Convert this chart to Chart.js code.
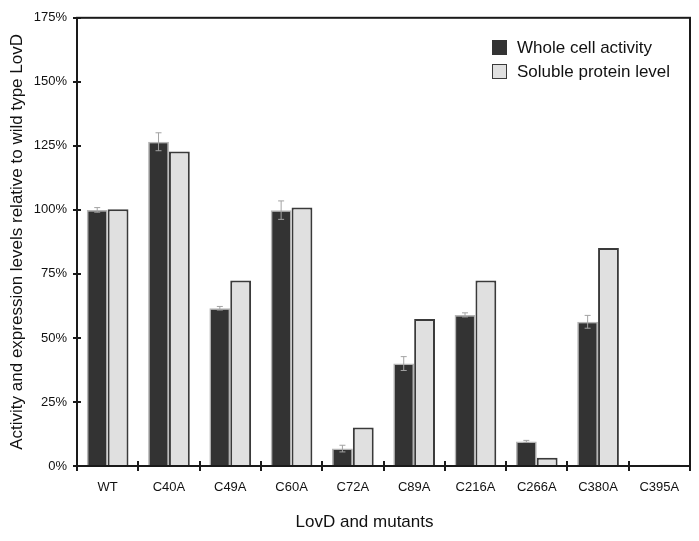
<!DOCTYPE html>
<html>
<head>
<meta charset="utf-8">
<script src="https://cdn.jsdelivr.net/npm/chart.js@4.4.1/dist/chart.umd.min.js"></script>
<style>
	body { margin: 0; background: #fff; }
	#chart { display: block; }
</style>
</head>
<body>
<canvas id="chart" width="699" height="541"></canvas>
<script>
const CHART = document.getElementById("chart");
const FONT = "'Liberation Sans', Arial, sans-serif";

const labels = ["WT", "C40A", "C49A", "C60A", "C72A", "C89A", "C216A", "C266A", "C380A", "C395A"];
const activity = [100, 126.6, 61.6, 99.9, 6.8, 40, 59, 9.6, 56.3, 0.2];
const activityErr = [0.9, 3.5, 0.7, 3.6, 1.3, 2.7, 0.8, 0.4, 2.5, 0];
const soluble = [100.2, 122.8, 72.4, 100.9, 15, 57.4, 72.4, 3.2, 85.1, 0.5];
const yTicks = [0, 25, 50, 75, 100, 125, 150, 175];

const seriesNames = ["Whole cell activity", "Soluble protein level"];
const xTitle = "LovD and mutants";
const yTitle = "Activity and expression levels relative to wild type LovD";

// error bars, frame, crossing tick marks, legend and x title
const extras = {
	id: "extras",
	afterDatasetsDraw(chart) {
		const ctx = chart.ctx;
		const y = chart.scales.y;
		const meta = chart.getDatasetMeta(0);
		ctx.save();
		ctx.strokeStyle = "#a3a3a3";
		ctx.lineWidth = 1;
		meta.data.forEach((bar, i) => {
			const err = activityErr[i];
			if (!err) return;
			const top = y.getPixelForValue(activity[i] + err);
			const bot = y.getPixelForValue(activity[i] - err);
			ctx.beginPath();
			ctx.moveTo(bar.x, top);
			ctx.lineTo(bar.x, bot);
			ctx.moveTo(bar.x - 3, top);
			ctx.lineTo(bar.x + 3, top);
			ctx.moveTo(bar.x - 3, bot);
			ctx.lineTo(bar.x + 3, bot);
			ctx.stroke();
		});
		ctx.restore();
	},
	afterDraw(chart) {
		const ctx = chart.ctx;
		const a = chart.chartArea;
		const x = chart.scales.x;
		const y = chart.scales.y;
		ctx.save();
		ctx.strokeStyle = "#1a1a1a";
		ctx.lineWidth = 2;
		ctx.strokeRect(a.left, a.top, a.right - a.left, a.bottom - a.top);

		ctx.beginPath();
		yTicks.forEach((v) => {
			const py = Math.round(y.getPixelForValue(v));
			ctx.moveTo(a.left - 4, py);
			ctx.lineTo(a.left + 4, py);
		});
		const step = (x.right - x.left) / labels.length;
		for (let i = 0; i <= labels.length; i++) {
			const px = Math.round(x.left + i * step);
			ctx.moveTo(px, a.bottom - 5);
			ctx.lineTo(px, a.bottom + 5);
		}
		ctx.stroke();

		// legend
		const ds = chart.data.datasets;
		ctx.font = "17px " + FONT;
		ctx.textBaseline = "middle";
		ctx.textAlign = "left";
		ds.forEach((d, i) => {
			const bx = 492;
			const by = 40 + i * 24;
			ctx.fillStyle = d.backgroundColor;
			ctx.fillRect(bx, by, 15, 15);
			ctx.lineWidth = 1;
			ctx.strokeStyle = i === 0 ? "#333333" : "#3a3a3a";
			ctx.strokeRect(bx + 0.5, by + 0.5, 14, 14);
			ctx.fillStyle = "#111";
			ctx.fillText(d.label, 517, by + 8);
		});

		ctx.textAlign = "center";
		ctx.fillText(xTitle, 364.5, 522);
		ctx.restore();
	},
};

new Chart(CHART.getContext("2d"), {
	type: "bar",
	data: {
		labels: labels,
		datasets: [
			{
				label: seriesNames[0],
				data: activity,
				backgroundColor: "#333333",
				borderColor: "#b5b5b5",
				borderWidth: 1.5,
			},
			{
				label: seriesNames[1],
				data: soluble,
				backgroundColor: "#e0e0e0",
				borderColor: "#3a3a3a",
				borderWidth: 2,
			},
		],
	},
	options: {
		responsive: false,
		animation: false,
		layout: { padding: { left: 0, right: 9, top: 12, bottom: 0 } },
		plugins: {
			legend: { display: false },
			tooltip: { enabled: false },
		},
		datasets: {
			bar: { categoryPercentage: 0.68, barPercentage: 1.0 },
		},
		scales: {
			x: {
				grid: { display: false, drawTicks: false },
				border: { display: false },
				ticks: {
					padding: 14,
					color: "#111",
					font: { family: FONT, size: 13 },
					maxRotation: 0,
				},
				afterFit: (s) => { s.height = 75; },
			},
			y: {
				min: 0,
				max: 175,
				grid: { display: false, drawTicks: false },
				border: { display: false },
				afterBuildTicks: (s) => { s.ticks = yTicks.map((v) => ({ value: v })); },
				ticks: {
					padding: 10,
					color: "#111",
					font: { family: FONT, size: 13 },
					callback: (v) => v + "%",
				},
				title: {
					display: true,
					text: yTitle,
					color: "#111",
					font: { family: FONT, size: 17 },
					padding: { top: 7, bottom: 0 },
				},
				afterFit: (s) => { s.width = 77; },
			},
		},
	},
	plugins: [extras],
});
</script>
</body>
</html>
